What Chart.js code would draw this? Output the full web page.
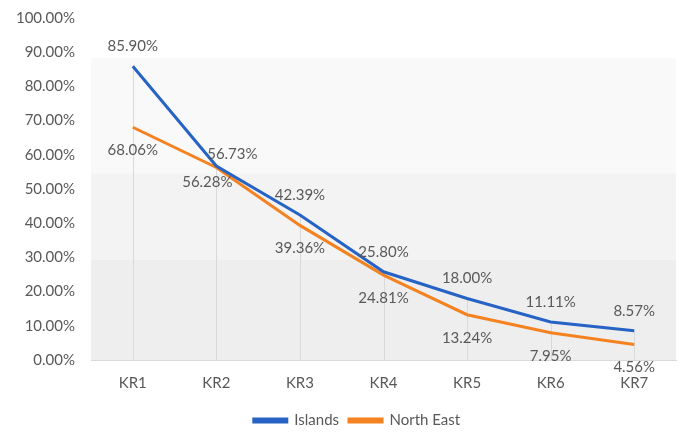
<!DOCTYPE html>
<html>
<head>
<meta charset="utf-8">
<script src="https://cdn.jsdelivr.net/npm/chart.js@4/dist/chart.umd.min.js"></script>
<style>
    html, body { margin: 0; padding: 0; background: #ffffff; }
    #wrap { width: 680px; height: 433px; }
</style>
</head>
<body>
<div id="wrap"><canvas id="ChartLine"></canvas></div>
<script>
const categories = ['KR1', 'KR2', 'KR3', 'KR4', 'KR5', 'KR6', 'KR7'];
const islands = [85.90, 56.73, 42.39, 25.80, 18.00, 11.11, 8.57];
const northEast = [68.06, 56.28, 39.36, 24.81, 13.24, 7.95, 4.56];
const yTicks = [0, 10, 20, 30, 40, 50, 60, 70, 80, 90, 100];

// background shading bands (value ranges)
const bands = [
    {from: 88.3, to: 54.5, color: '#f9f9f9'},
    {from: 54.5, to: 29.4, color: '#f3f3f3'},
    {from: 29.4, to: 0, color: '#eeeeee'}
];

const textColor = '#595959';
const fontFamily = 'Lato, "Open Sans", sans-serif';

const bandsPlugin = {
    id: 'bands',
    beforeDraw(chart) {
        const {ctx, chartArea, scales} = chart;
        ctx.save();
        bands.forEach(b => {
            const y1 = scales.y.getPixelForValue(b.from);
            const y2 = scales.y.getPixelForValue(b.to);
            ctx.fillStyle = b.color;
            ctx.fillRect(chartArea.left, y1, chartArea.right - chartArea.left, y2 - y1);
        });
        ctx.restore();
    }
};

const dropLines = {
    id: 'dropLines',
    beforeDatasetsDraw(chart) {
        const {ctx, scales} = chart;
        ctx.save();
        ctx.strokeStyle = '#d9d9d9';
        ctx.lineWidth = 1;
        categories.forEach((c, i) => {
            const x = Math.round(scales.x.getPixelForValue(i)) + 0.5;
            const top = scales.y.getPixelForValue(Math.max(islands[i], northEast[i]));
            ctx.beginPath();
            ctx.moveTo(x, top);
            ctx.lineTo(x, scales.y.getPixelForValue(0));
            ctx.stroke();
        });
        ctx.restore();
    }
};

// legend sits a bit right of centre, under the plot area
const legendShift = {
    id: 'legendShift',
    afterLayout(chart) {
        chart.legend.left += 19;
        chart.legend.right += 19;
    }
};

// label nudges: [dx, dy] per dataset per point
const nudges = [
    [[0, -20], [16, -12], [0, -20], [0, -20], [0, -20], [0, -20], [0, -20]],
    [[0, 23], [-9, 15], [0, 23], [0, 23], [0, 23], [0, 23], [0, 23]]
];

const valueLabels = {
    id: 'valueLabels',
    afterDatasetsDraw(chart) {
        const {ctx} = chart;
        ctx.save();
        ctx.font = '15px ' + fontFamily;
        ctx.fillStyle = textColor;
        ctx.textAlign = 'center';
        ctx.textBaseline = 'middle';
        chart.data.datasets.forEach((ds, d) => {
            chart.getDatasetMeta(d).data.forEach((pt, i) => {
                const n = nudges[d][i];
                ctx.fillText(ds.data[i].toFixed(2) + '%', pt.x + n[0], pt.y + n[1]);
            });
        });
        ctx.restore();
    }
};

const chartLine = document.getElementById('ChartLine');
new Chart(chartLine, {
    type: 'line',
    data: {
        labels: categories,
        datasets: [{
            label: 'Islands',
            data: islands,
            borderColor: '#2763c4',
            backgroundColor: '#2763c4',
            borderWidth: 3,
            pointRadius: 0,
            tension: 0
        }, {
            label: 'North East',
            data: northEast,
            borderColor: '#f58220',
            backgroundColor: '#f58220',
            borderWidth: 3,
            pointRadius: 0,
            tension: 0
        }]
    },
    options: {
        responsive: true,
        maintainAspectRatio: false,
        animation: false,
        layout: {padding: {top: 18, right: 4, left: 0, bottom: -5}},
        scales: {
            x: {
                offset: true,
                grid: {display: false, drawTicks: false},
                border: {display: true, color: '#d9d9d9'},
                ticks: {color: textColor, font: {size: 15, family: fontFamily}, padding: 14},
                afterFit(axis) { axis.height = 43; }
            },
            y: {
                min: 0,
                max: 100,
                afterBuildTicks(axis) { axis.ticks = yTicks.map(v => ({value: v})); },
                grid: {display: false, drawTicks: false},
                border: {display: false},
                ticks: {
                    color: textColor,
                    font: {size: 15, family: fontFamily},
                    padding: 16,
                    callback: v => v.toFixed(2) + '%'
                },
                afterFit(axis) {
                    axis.width = 91;
                    axis.paddingTop = 0;
                    axis.paddingBottom = 0;
                }
            }
        },
        plugins: {
            legend: {
                position: 'bottom',
                labels: {
                    color: textColor,
                    font: {size: 15, family: fontFamily},
                    boxWidth: 33,
                    boxHeight: 3,
                    padding: 10
                }
            },
            tooltip: {enabled: false}
        }
    },
    plugins: [bandsPlugin, dropLines, legendShift, valueLabels]
});
</script>
</body>
</html>
